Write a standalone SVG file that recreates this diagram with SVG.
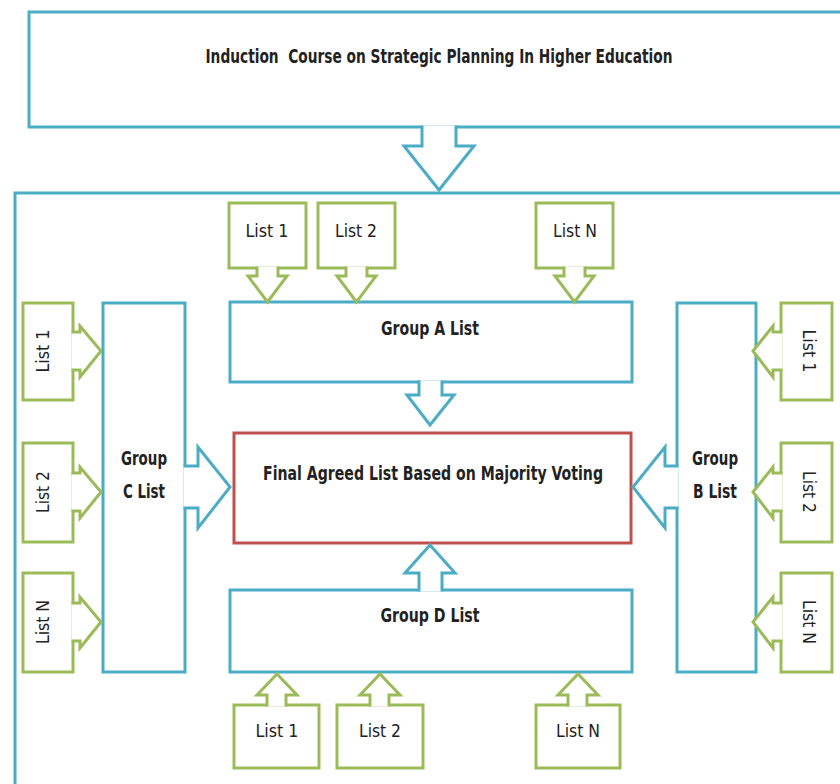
<svg xmlns="http://www.w3.org/2000/svg" width="840" height="784" viewBox="0 0 840 784">
<defs>
<style>
.b{fill:#fff;stroke:#4bacc6;stroke-width:3}
.g{fill:#fff;stroke:#9bbb59;stroke-width:3}
.r{fill:#fff;stroke:#c0504d;stroke-width:3}
.ab{fill:#fff;stroke:#4bacc6;stroke-width:3;stroke-linejoin:miter}
.ag{fill:#fff;stroke:#9bbb59;stroke-width:3;stroke-linejoin:miter}
.t{font-family:"Liberation Sans Narrow","DejaVu Sans Condensed","Liberation Sans",sans-serif;fill:#222;text-anchor:middle}
.tb{font-weight:bold;font-size:19px}
.tl{font-size:18px}
</style>
</defs>
<rect width="840" height="784" fill="#fff"/>
<g id="container">
<path d="M15 193 H850 V800 H15 Z" fill="none" stroke="#4bacc6" stroke-width="3"/>
</g>
<g id="induction">
<rect class="b" x="29" y="12" width="830" height="115"/>
<text class="t tb" x="439" y="63" textLength="467" lengthAdjust="spacingAndGlyphs">Induction&#160; Course on Strategic Planning In Higher Education</text>
</g>
<g id="groupA">
<rect class="b" x="230" y="302" width="402" height="80"/>
<text class="t tb" x="430" y="335" textLength="98" lengthAdjust="spacingAndGlyphs">Group A List</text>
</g>
<g id="groupD">
<rect class="b" x="230" y="590" width="402" height="82"/>
<text class="t tb" x="430" y="622" textLength="99" lengthAdjust="spacingAndGlyphs">Group D List</text>
</g>
<g id="groupC">
<rect class="b" x="103" y="303" width="82" height="369"/>
<text class="t tb" x="144" y="465" textLength="46" lengthAdjust="spacingAndGlyphs">Group</text>
<text class="t tb" x="144" y="498" textLength="42" lengthAdjust="spacingAndGlyphs">C List</text>
</g>
<g id="groupB">
<rect class="b" x="677" y="303" width="79" height="369"/>
<text class="t tb" x="715" y="465" textLength="46" lengthAdjust="spacingAndGlyphs">Group</text>
<text class="t tb" x="715" y="498" textLength="44" lengthAdjust="spacingAndGlyphs">B List</text>
</g>
<g id="final">
<rect class="r" x="234" y="433" width="397" height="110"/>
<text class="t tb" x="433" y="480" textLength="340" lengthAdjust="spacingAndGlyphs">Final Agreed List Based on Majority Voting</text>
</g>
<g id="topList1"><rect class="g" x="229" y="203" width="77" height="65"/><text class="t tl" x="267" y="237" textLength="43" lengthAdjust="spacingAndGlyphs">List 1</text></g>
<g id="topList2"><rect class="g" x="318" y="203" width="77" height="65"/><text class="t tl" x="356" y="237" textLength="42" lengthAdjust="spacingAndGlyphs">List 2</text></g>
<g id="topListN"><rect class="g" x="536" y="203" width="77" height="65"/><text class="t tl" x="575" y="237" textLength="44" lengthAdjust="spacingAndGlyphs">List N</text></g>
<g id="leftList1"><rect class="g" x="23" y="303" width="50" height="97"/><text class="t tl" transform="translate(43,351) rotate(-90)" y="6" textLength="43" lengthAdjust="spacingAndGlyphs">List 1</text></g>
<g id="leftList2"><rect class="g" x="23" y="443" width="50" height="99"/><text class="t tl" transform="translate(43,492) rotate(-90)" y="6" textLength="42" lengthAdjust="spacingAndGlyphs">List 2</text></g>
<g id="leftListN"><rect class="g" x="23" y="573" width="50" height="99"/><text class="t tl" transform="translate(43,622) rotate(-90)" y="6" textLength="44" lengthAdjust="spacingAndGlyphs">List N</text></g>
<g id="rightList1"><rect class="g" x="781" y="303" width="51" height="97"/><text class="t tl" transform="translate(809,351) rotate(90)" y="6" textLength="43" lengthAdjust="spacingAndGlyphs">List 1</text></g>
<g id="rightList2"><rect class="g" x="781" y="443" width="51" height="99"/><text class="t tl" transform="translate(809,492) rotate(90)" y="6" textLength="42" lengthAdjust="spacingAndGlyphs">List 2</text></g>
<g id="rightListN"><rect class="g" x="781" y="573" width="51" height="99"/><text class="t tl" transform="translate(809,622) rotate(90)" y="6" textLength="44" lengthAdjust="spacingAndGlyphs">List N</text></g>
<g id="bottomList1"><rect class="g" x="234" y="705" width="85" height="63"/><text class="t tl" x="277" y="737" textLength="43" lengthAdjust="spacingAndGlyphs">List 1</text></g>
<g id="bottomList2"><rect class="g" x="337" y="705" width="86" height="63"/><text class="t tl" x="380" y="737" textLength="42" lengthAdjust="spacingAndGlyphs">List 2</text></g>
<g id="bottomListN"><rect class="g" x="536" y="705" width="84" height="63"/><text class="t tl" x="578" y="737" textLength="44" lengthAdjust="spacingAndGlyphs">List N</text></g>
<g id="connectors">
<path class="ab" d="M422 125.5 V146 H404 L439 190 L474 146 H456 V125.5"/>
<path class="ab" d="M419 380.5 V395 H407 L430 425 L454 395 H442 V380.5"/>
<path class="ab" d="M419 591.5 V573 H405 L430 545 L455 573 H442 V591.5"/>
<path class="ab" d="M183.5 466 H198 V447 L230 487 L198 528 V508 H183.5"/>
<path class="ab" d="M678.5 466 H665 V447 L633 487 L665 528 V508 H678.5"/>
<path class="ag" d="M257 266.5 V276 H248 L267.5 302 L287 276 H278 V266.5"/>
<path class="ag" d="M346 266.5 V276 H337 L356.5 302 L376 276 H367 V266.5"/>
<path class="ag" d="M564 266.5 V276 H555 L574.5 302 L594 276 H585 V266.5"/>
<path class="ag" d="M71.5 332 H80 V326 L101 351 L80 377 V370 H71.5"/>
<path class="ag" d="M71.5 473 H80 V467 L101 492 L80 518 V511 H71.5"/>
<path class="ag" d="M71.5 603 H80 V597 L101 622 L80 648 V641 H71.5"/>
<path class="ag" d="M782.5 332 H773 V326 L753 351 L773 377 V370 H782.5"/>
<path class="ag" d="M782.5 473 H773 V467 L753 492 L773 518 V511 H782.5"/>
<path class="ag" d="M782.5 603 H773 V597 L753 622 L773 648 V641 H782.5"/>
<path class="ag" d="M267 706.5 V695 H257 L277 674 L297 695 H286 V706.5"/>
<path class="ag" d="M370 706.5 V695 H360 L380 674 L400 695 H389 V706.5"/>
<path class="ag" d="M568 706.5 V695 H558 L578 674 L598 695 H587 V706.5"/>
</g>
</svg>
